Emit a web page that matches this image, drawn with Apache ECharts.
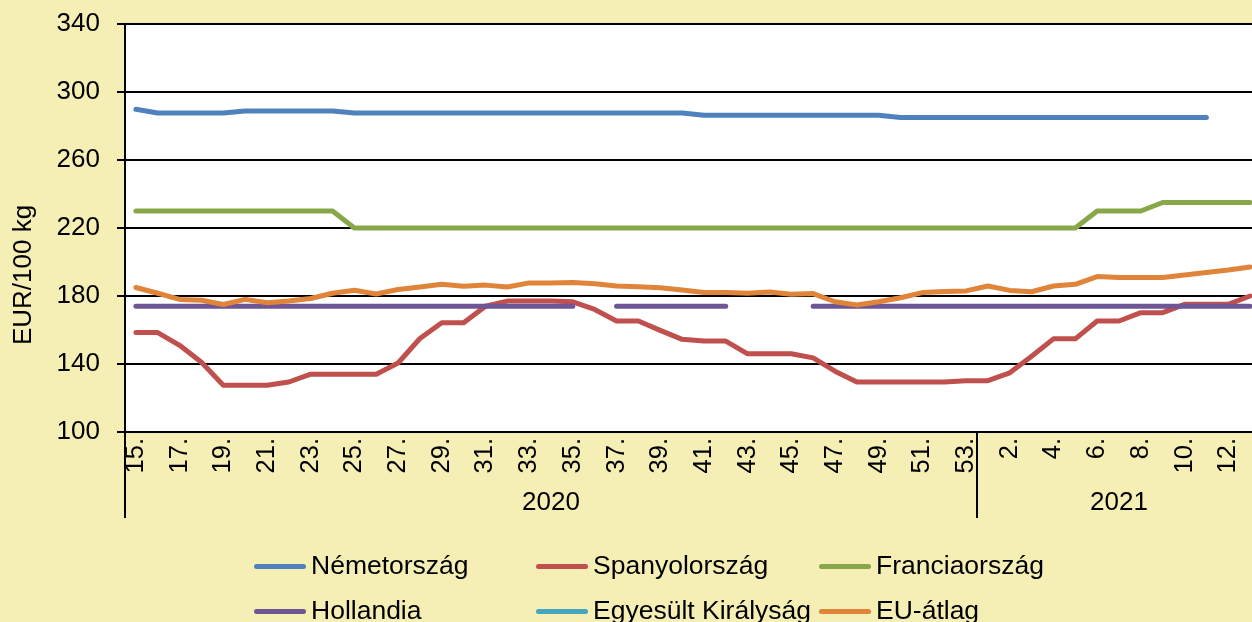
<!DOCTYPE html>
<html>
<head>
<meta charset="utf-8">
<script src="https://cdn.jsdelivr.net/npm/echarts@6/dist/echarts.min.js"></script>
<style>
  html, body { margin: 0; padding: 0; background: #F5EFB6; overflow: hidden; }
  #chart { width: 1261px; height: 622px; }
</style>
</head>
<body>
<div id="chart"></div>
<script>
// week numbers, 2020 week 15 .. 2021 week 13
const weeks = [15, 16, 17, 18, 19, 20, 21, 22, 23, 24, 25, 26, 27, 28, 29, 30, 31, 32, 33, 34,
  35, 36, 37, 38, 39, 40, 41, 42, 43, 44, 45, 46, 47, 48, 49, 50, 51, 52, 53,
  1, 2, 3, 4, 5, 6, 7, 8, 9, 10, 11, 12, 13];
const years = ["2020", "2021"];

const nemet = [289.8, 287.7, 287.7, 287.7, 287.7, 288.8, 288.8, 288.8, 288.8, 288.8,
  287.7, 287.7, 287.7, 287.7, 287.7, 287.7, 287.7, 287.7, 287.7, 287.7,
  287.7, 287.7, 287.7, 287.7, 287.7, 287.7, 286.3, 286.3, 286.3, 286.3,
  286.3, 286.3, 286.3, 286.3, 286.3, 285, 285, 285, 285, 285,
  285, 285, 285, 285, 285, 285, 285, 285, 285, 285, null, null];
const spanyol = [158.5, 158.5, 151, 141, 127.5, 127.5, 127.5, 129.4, 134, 134,
  134, 134, 140.6, 155, 164.3, 164.3, 174, 177, 177, 177,
  176.6, 172.1, 165.3, 165.3, 159.8, 154.5, 153.5, 153.5, 146, 146,
  146, 143.6, 135.8, 129.4, 129.4, 129.4, 129.4, 129.4, 130.2, 130.2,
  134.8, 144.6, 154.8, 154.8, 165.3, 165.3, 170.2, 170.2, 175.1, 175.1, 175.1, 180];
const francia = [230, 230, 230, 230, 230, 230, 230, 230, 230, 230,
  220, 220, 220, 220, 220, 220, 220, 220, 220, 220,
  220, 220, 220, 220, 220, 220, 220, 220, 220, 220,
  220, 220, 220, 220, 220, 220, 220, 220, 220, 220,
  220, 220, 220, 220, 230, 230, 230, 235, 235, 235, 235, 235];
const holland = [174, 174, 174, 174, 174, 174, 174, 174, 174, 174,
  174, 174, 174, 174, 174, 174, 174, 174, 174, 174,
  174, null, 174, 174, 174, 174, 174, 174, null, null,
  null, 174, 174, 174, 174, 174, 174, 174, 174, 174,
  174, 174, 174, 174, 174, 174, 174, 174, 174, 174, 174, 174];
const egyesult = [];
const euAtlag = [185, 181.6, 178, 177.5, 175, 178, 176, 177, 178.5, 181.6,
  183.4, 181.2, 183.8, 185.3, 186.9, 185.8, 186.4, 185.3, 187.7, 187.7,
  188, 187.2, 185.9, 185.5, 184.9, 183.5, 182, 182, 181.6, 182.4,
  181, 181.4, 176.6, 174.7, 176.6, 179, 182, 182.6, 183, 185.9,
  183.3, 182.5, 185.9, 186.9, 191.4, 190.9, 190.9, 190.9, 192.4, 193.8, 195.3, 197.1];

// year of each week: a new year starts when the week number drops
const yearIdx = [];
weeks.forEach(function (w, i) {
  yearIdx.push(i === 0 ? 0 : yearIdx[i - 1] + (w < weeks[i - 1] ? 1 : 0));
});
function groupStart(i) {
  return i === 0 || yearIdx[i] !== yearIdx[i - 1];
}
function groupMiddle(i) {
  let first = yearIdx.indexOf(yearIdx[i]);
  let last = yearIdx.lastIndexOf(yearIdx[i]);
  return i === Math.floor((first + last + 1) / 2);
}

const font = "'Liberation Sans', Arial, sans-serif";
const black = "#000";
const lineIcon = "path://M2.5,0 L49.5,0 A2.5,2.5 0 0 1 49.5,5 L2.5,5 A2.5,2.5 0 0 1 2.5,0 Z";

function lineSeries(name, data, color) {
  return {
    name: name,
    type: "line",
    data: data,
    color: color,
    symbol: "none",
    connectNulls: false,
    lineStyle: { width: 5, cap: "round", join: "round" },
    emphasis: { disabled: true },
  };
}

// one legend per entry so the two rows line up in columns
function legendItem(name, left, top) {
  return {
    data: [name],
    left: left,
    top: top,
    icon: lineIcon,
    itemWidth: 52,
    itemHeight: 5,
    textStyle: { fontSize: 26.5, color: black, fontFamily: font },
  };
}

let chart = echarts.init(document.getElementById("chart"));
chart.setOption({
  animation: false,
  backgroundColor: "#F5EFB6",
  textStyle: { fontFamily: font, color: black },
  grid: {
    left: 125,
    right: 0,
    top: 24,
    bottom: 190,
    show: true,
    backgroundColor: "#fff",
    borderWidth: 0,
  },
  legend: [
    legendItem("Németország", 249, 548),
    legendItem("Spanyolország", 531, 548),
    legendItem("Franciaország", 814, 548),
    legendItem("Hollandia", 249, 593),
    legendItem("Egyesült Királyság", 531, 593),
    legendItem("EU-átlag", 814, 593),
  ],
  xAxis: [
    {
      type: "category",
      data: weeks,
      boundaryGap: true,
      axisLine: { lineStyle: { color: black, width: 2 } },
      axisTick: { show: false },
      axisLabel: {
        rotate: 90,
        interval: 1,
        margin: 6,
        fontSize: 25.5,
        color: black,
        formatter: function (v) { return v + "."; },
      },
      splitLine: { show: false },
    },
    {
      type: "category",
      data: weeks,
      boundaryGap: true,
      position: "bottom",
      axisLine: { show: false },
      axisTick: {
        show: true,
        length: 86,
        interval: function (i) { return groupStart(i); },
        lineStyle: { color: black, width: 2 },
      },
      axisLabel: {
        interval: 0,
        margin: 58,
        fontSize: 26,
        color: black,
        formatter: function (v, i) { return groupMiddle(i) ? years[yearIdx[i]] : ""; },
      },
      splitLine: { show: false },
    },
  ],
  yAxis: {
    type: "value",
    min: 100,
    max: 340,
    interval: 40,
    name: "EUR/100 kg",
    nameLocation: "middle",
    nameGap: 88,
    nameTextStyle: { fontSize: 26, color: black, padding: [0, 94, 0, 0] },
    axisLine: { show: true, lineStyle: { color: black, width: 2 } },
    axisTick: { show: true, length: 8, lineStyle: { color: black, width: 2 } },
    axisLabel: { fontSize: 26, color: black, margin: 25 },
    splitLine: { lineStyle: { color: black, width: 2 } },
  },
  series: [
    lineSeries("Németország", nemet, "#4F81BD"),
    lineSeries("Spanyolország", spanyol, "#C0504D"),
    lineSeries("Franciaország", francia, "#87A74A"),
    lineSeries("Hollandia", holland, "#6F5593"),
    lineSeries("Egyesült Királyság", egyesult, "#44A5BE"),
    lineSeries("EU-átlag", euAtlag, "#E0843A"),
  ],
});
</script>
</body>
</html>
